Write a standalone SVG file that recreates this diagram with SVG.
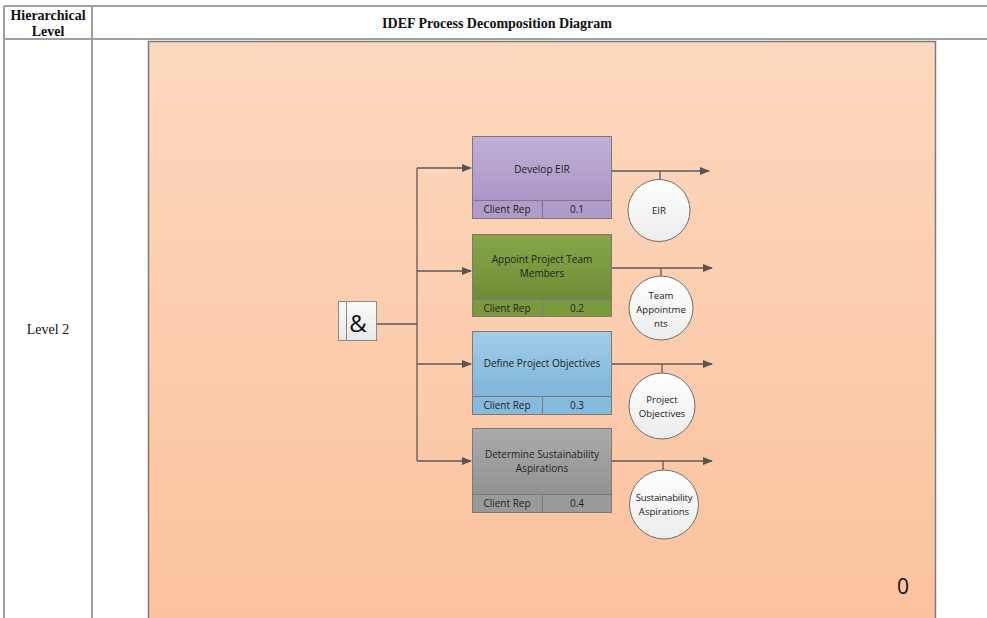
<svg xmlns="http://www.w3.org/2000/svg" width="987" height="618" viewBox="0 0 987 618">
  <defs>
    <linearGradient id="bg" x1="0" y1="0" x2="0" y2="1">
      <stop offset="0" stop-color="#FDD8BE"/>
      <stop offset="1" stop-color="#FBC29E"/>
    </linearGradient>
    <linearGradient id="gPurple" x1="0" y1="0" x2="0" y2="1">
      <stop offset="0" stop-color="#C0B0D5"/>
      <stop offset="1" stop-color="#A68FC3"/>
    </linearGradient>
    <linearGradient id="gGreen" x1="0" y1="0" x2="0" y2="1">
      <stop offset="0" stop-color="#86A647"/>
      <stop offset="1" stop-color="#6A8632"/>
    </linearGradient>
    <linearGradient id="gBlue" x1="0" y1="0" x2="0" y2="1">
      <stop offset="0" stop-color="#A2CCE6"/>
      <stop offset="1" stop-color="#74AFD7"/>
    </linearGradient>
    <linearGradient id="gGray" x1="0" y1="0" x2="0" y2="1">
      <stop offset="0" stop-color="#ABABAB"/>
      <stop offset="1" stop-color="#8B8B8B"/>
    </linearGradient>
    <linearGradient id="gCircle" x1="0" y1="0" x2="0" y2="1">
      <stop offset="0" stop-color="#FFFFFF"/>
      <stop offset="1" stop-color="#ECECEC"/>
    </linearGradient>
    <linearGradient id="gAnd" x1="0" y1="0" x2="0" y2="1">
      <stop offset="0" stop-color="#FAFAFA"/>
      <stop offset="1" stop-color="#E8E8E8"/>
    </linearGradient>
    <marker id="arrow" markerWidth="10" markerHeight="8" refX="9" refY="4" orient="auto" markerUnits="userSpaceOnUse">
      <path d="M0,0 L10,4 L0,8 Z" fill="#555"/>
    </marker>
  </defs>
  <style>
    .grid { stroke: #A0A0A0; stroke-width: 2; fill: none; }
    .hdr { font-family: "Liberation Serif", serif; font-weight: bold; font-size: 14px; fill: #111; text-anchor: middle; }
    .lvl { font-family: "Liberation Serif", serif; font-size: 14px; fill: #111; text-anchor: middle; }
    .box { stroke: #7A7A7A; stroke-width: 1; }
    .strip { stroke: #7A7A7A; stroke-width: 1; }
    .t { font-family: "Open Sans", "Liberation Sans", sans-serif; font-size: 10px; fill: #222; text-anchor: middle; }
    .ct { font-family: "Open Sans", "Liberation Sans", sans-serif; font-size: 9.6px; fill: #222; text-anchor: middle; }
    .conn { stroke: #5A5A5A; stroke-width: 1.3; fill: none; }
    .circ { fill: url(#gCircle); stroke: #6E6E6E; stroke-width: 1; }
  </style>

  <!-- table frame -->
  <rect x="0" y="0" width="987" height="618" fill="#FFFFFF"/>
  <line class="grid" x1="4" y1="6" x2="987" y2="6"/>
  <line class="grid" x1="4" y1="39" x2="987" y2="39"/>
  <line class="grid" x1="4" y1="6" x2="4" y2="618"/>
  <line class="grid" x1="92" y1="6" x2="92" y2="618"/>
  <text class="hdr" x="48" y="20">Hierarchical</text>
  <text class="hdr" x="48" y="36">Level</text>
  <text class="hdr" x="497" y="28">IDEF Process Decomposition Diagram</text>
  <text class="lvl" x="48" y="334">Level 2</text>

  <!-- context area -->
  <g id="context">
    <rect x="148.5" y="41.5" width="787" height="580" fill="url(#bg)" stroke="#7E7A77" stroke-width="1.5"/>
    <text x="903" y="594" font-family="Open Sans, Liberation Sans, sans-serif" font-size="21" fill="#111" text-anchor="middle">0</text>
  </g>

  <!-- connectors -->
  <g id="connectors">
    <path class="conn" d="M377,324 H417"/>
    <path class="conn" d="M417,168 V461"/>
    <path class="conn" d="M417,168 H471" marker-end="url(#arrow)"/>
    <path class="conn" d="M417,271 H471" marker-end="url(#arrow)"/>
    <path class="conn" d="M417,364 H471" marker-end="url(#arrow)"/>
    <path class="conn" d="M417,461 H471" marker-end="url(#arrow)"/>
    <path class="conn" d="M612,171 H709" marker-end="url(#arrow)"/>
    <path class="conn" d="M612,268 H712" marker-end="url(#arrow)"/>
    <path class="conn" d="M612,364 H712" marker-end="url(#arrow)"/>
    <path class="conn" d="M612,461 H712" marker-end="url(#arrow)"/>
    <path class="conn" d="M660,171 V180"/>
    <path class="conn" d="M661,268 V276"/>
    <path class="conn" d="M662,364 V373"/>
    <path class="conn" d="M663,461 V470"/>
  </g>

  <!-- AND junction -->
  <g id="and-junction">
    <rect x="338.5" y="301.5" width="38" height="39" fill="url(#gAnd)" stroke="#8A8A8A"/>
    <line x1="346.5" y1="302" x2="346.5" y2="340" stroke="#8A8A8A"/>
    <text x="358" y="332" font-family="Open Sans, Liberation Sans, sans-serif" font-size="24" fill="#111" text-anchor="middle">&amp;</text>
  </g>

  <!-- activity 0.1 -->
  <g id="act-0-1">
    <rect class="box" x="472.5" y="136.5" width="139" height="82" fill="url(#gPurple)"/>
    <rect class="strip" x="472.5" y="200.5" width="139" height="18" fill="#B09BCB"/>
    <line class="strip" x1="542.5" y1="200.5" x2="542.5" y2="218.5"/>
    <text class="t" x="542" y="173">Develop EIR</text>
    <text class="t" x="507" y="213">Client Rep</text>
    <text class="t" x="577" y="213">0.1</text>
  </g>

  <!-- activity 0.2 -->
  <g id="act-0-2">
    <rect class="box" x="472.5" y="234.5" width="139" height="82" fill="url(#gGreen)"/>
    <rect class="strip" x="472.5" y="299.5" width="139" height="17" fill="#7A9A3D"/>
    <line class="strip" x1="542.5" y1="299.5" x2="542.5" y2="316.5"/>
    <text class="t" x="542" y="263">Appoint Project Team</text>
    <text class="t" x="542" y="277">Members</text>
    <text class="t" x="507" y="312">Client Rep</text>
    <text class="t" x="577" y="312">0.2</text>
  </g>

  <!-- activity 0.3 -->
  <g id="act-0-3">
    <rect class="box" x="472.5" y="331.5" width="139" height="83" fill="url(#gBlue)"/>
    <rect class="strip" x="472.5" y="396.5" width="139" height="18" fill="#86BADD"/>
    <line class="strip" x1="542.5" y1="396.5" x2="542.5" y2="414.5"/>
    <text class="t" x="542" y="367">Define Project Objectives</text>
    <text class="t" x="507" y="409">Client Rep</text>
    <text class="t" x="577" y="409">0.3</text>
  </g>

  <!-- activity 0.4 -->
  <g id="act-0-4">
    <rect class="box" x="472.5" y="428.5" width="139" height="84" fill="url(#gGray)"/>
    <rect class="strip" x="472.5" y="494.5" width="139" height="18" fill="#9A9A9A"/>
    <line class="strip" x1="542.5" y1="494.5" x2="542.5" y2="512.5"/>
    <text class="t" x="542" y="458">Determine Sustainability</text>
    <text class="t" x="542" y="472">Aspirations</text>
    <text class="t" x="507" y="507">Client Rep</text>
    <text class="t" x="577" y="507">0.4</text>
  </g>

  <!-- outputs -->
  <g id="out-eir">
    <circle class="circ" cx="659" cy="210.5" r="31"/>
    <text class="ct" x="659" y="214">EIR</text>
  </g>
  <g id="out-team">
    <circle class="circ" cx="661" cy="308" r="32"/>
    <text class="ct" x="661" y="299">Team</text>
    <text class="ct" x="661" y="313">Appointme</text>
    <text class="ct" x="661" y="327">nts</text>
  </g>
  <g id="out-objectives">
    <circle class="circ" cx="662" cy="406" r="33"/>
    <text class="ct" x="662" y="403">Project</text>
    <text class="ct" x="662" y="417">Objectives</text>
  </g>
  <g id="out-sustainability">
    <circle class="circ" cx="664" cy="504.5" r="34.5"/>
    <text class="ct" x="664" y="501" letter-spacing="-0.2">Sustainability</text>
    <text class="ct" x="664" y="515">Aspirations</text>
  </g>
</svg>
